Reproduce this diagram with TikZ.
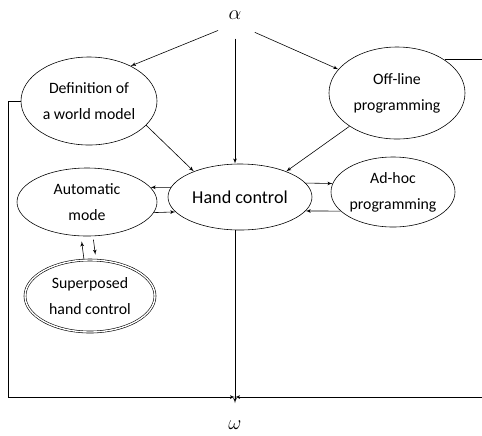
\documentclass[tikz,border=0pt]{standalone}
\usepackage{fontspec}
\setmainfont{Carlito}
\usetikzlibrary{shapes.geometric,
	calc,
	positioning,
	arrows}

\tikzset{
	task/.style={ellipse, draw, align=center, inner sep=0pt,
		font=\fontsize{13.5}{22}\selectfont},
	flow/.style={->, >=latex'},
}

\begin{document}
\begin{tikzpicture}[x=0.03cm, y=-0.03cm, line width=0.5pt]
		\useasboundingbox (0,0) rectangle (482,435);
		% inputs and outputs
		\node [font=\LARGE] (alpha) at (235,15) {$\alpha$};
		\node [font=\LARGE] (omega) at (235,425) {$\omega$};
		\coordinate (join) at (235,397);
		% tasks
		\node [task, minimum width=4.08cm, minimum height=2.64cm] (world) at (89,101) {Definition of\\a world model};
		\node [task, minimum width=4.08cm, minimum height=2.76cm] (offline) at (397,93) {Off-line\\programming};
		\node [task, minimum width=4.32cm, minimum height=1.98cm] (hand) at (240,197) {\fontsize{15.5}{18}\selectfont Hand control};
		\node [task, minimum width=4.2cm, minimum height=2.04cm] (auto) at (87,202) {Automatic\\mode};
		\node [task, minimum width=3.72cm, minimum height=2.1cm] (adhoc) at (393,192) {Ad-hoc\\programming};
		\node [task, double, double distance=1.2pt, minimum width=3.9cm, minimum height=2.16cm] (super) at (90,296) {Superposed\\hand control};
		% from alpha
		\draw [flow, shorten <=0.55cm] (alpha.south) -- (world.40);
		\draw [flow, shorten <=0.45cm] (alpha.south) -- (alpha.south |- hand.north);
		\draw [flow, shorten <=0.65cm] (alpha.south) -- (offline.158);
		\draw [flow] (world.337) -- (hand.151);
		\draw [flow] (offline.215) -- (hand.29);
		% hand control and its neighbours
		\draw [flow] (hand.172) -- (auto.13);
		\draw [flow] (auto.351) -- (hand.193);
		\draw [flow] (hand.12) -- (adhoc.172);
		\draw [flow] (adhoc.200) -- (hand.348);
		\draw [flow, shorten >=0.15cm] ($(super.north)+(-6,0)$) -- ($(auto.south)+(-6,0)$);
		\draw [flow, shorten <=0.1cm, shorten >=0.15cm] ($(auto.south)+(6,0)$) -- ($(super.north)+(6,0)$);
		% to omega
		\draw [flow, shorten >=0.4cm] (hand.south -| omega) -- (omega);
		\draw [flow] (world.west) -- ++(-12,0) |- (join);
		\draw [flow] (offline.35) -- ++(60,0) |- (join);
	\end{tikzpicture}
\end{document}
